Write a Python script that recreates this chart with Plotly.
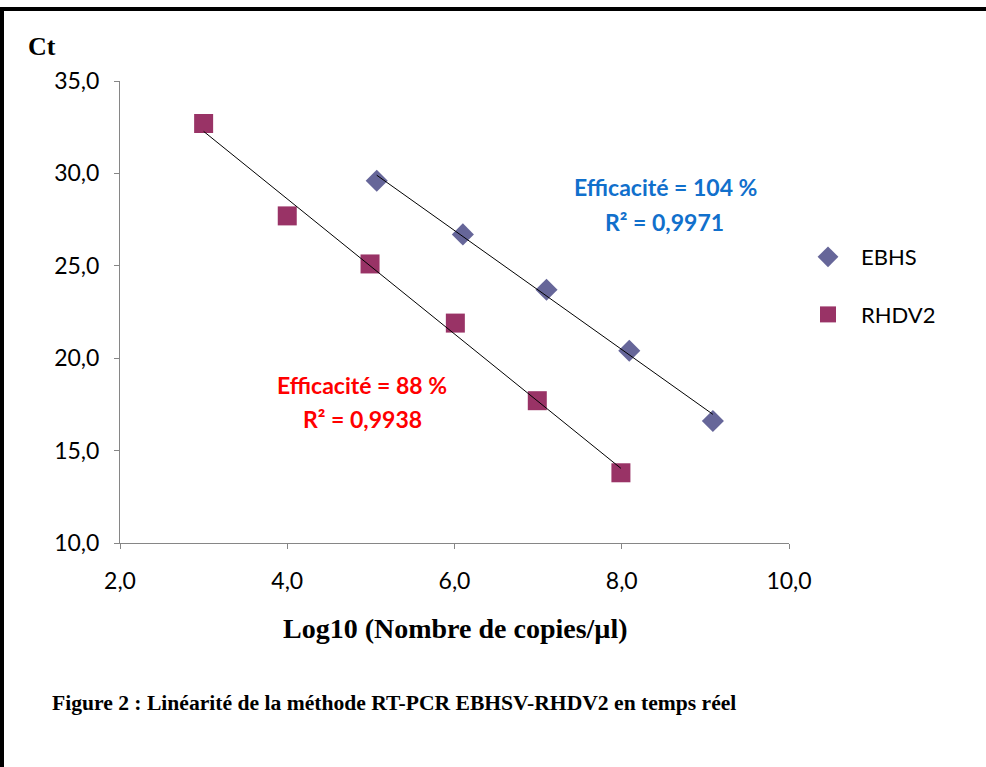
import numpy as np
import plotly.graph_objects as go

# ---- data ----
ebhs_x = [5.07, 6.10, 7.10, 8.09, 9.09]
ebhs_y = [29.6, 26.7, 23.7, 20.4, 16.6]
rhdv2_x = [3.00, 4.00, 4.99, 6.01, 6.99, 7.99]
rhdv2_y = [32.7, 27.7, 25.1, 21.9, 17.7, 13.8]
series_names = ["EBHS", "RHDV2"]
x_ticks = [2, 4, 6, 8, 10]
y_ticks = [10, 15, 20, 25, 30, 35]

ebhs_color = "#666699"
rhdv2_color = "#993366"

fig = go.Figure()
fig.add_trace(go.Scatter(x=ebhs_x, y=ebhs_y, mode="markers", name=series_names[0],
                         legendgroup="a",
                         marker=dict(symbol="diamond", size=17, color=ebhs_color)))
fig.add_trace(go.Scatter(x=rhdv2_x, y=rhdv2_y, mode="markers", name=series_names[1],
                         legendgroup="b",
                         marker=dict(symbol="square", size=19, color=rhdv2_color)))

# linear trend lines (least squares on the data)
for xs, ys in [(ebhs_x, ebhs_y), (rhdv2_x, rhdv2_y)]:
    a, b = np.polyfit(xs, ys, 1)
    xl = [min(xs), max(xs)]
    fig.add_trace(go.Scatter(x=xl, y=[a * v + b for v in xl], mode="lines",
                             line=dict(color="black", width=1), showlegend=False,
                             hoverinfo="skip"))

W, H = 986, 767
L, R, T, B = 120, 789, 81, 543
pw, ph = R - L, B - T


def px(x):
    return (x - L) / pw


def py(y):
    return (B - y) / ph


axis_common = dict(showline=True, linecolor="#868686", linewidth=1, ticks="outside",
                   ticklen=5, tickcolor="#868686", showgrid=False, zeroline=False,
                   tickfont=dict(family="Lato", size=23, color="black"),
                   tickformat=".1f")

fig.update_layout(
    width=W, height=H,
    margin=dict(l=L, r=W - R, t=T, b=H - B),
    paper_bgcolor="white", plot_bgcolor="white",
    separators=", ",
    showlegend=True,
    legend=dict(x=px(795), y=py(236), xanchor="left", yanchor="top",
                font=dict(family="Lato", size=22, color="black"),
                tracegroupgap=26, itemwidth=56, bgcolor="rgba(0,0,0,0)"),
    xaxis=dict(range=[2, 10], tickvals=x_ticks, ticklabelstandoff=12, **axis_common),
    yaxis=dict(range=[10, 35], tickvals=y_ticks, ticklabelstandoff=10, **axis_common),
)


def note(text, x, y, size, color, family="Lato", xanchor="center"):
    return dict(text=text, x=px(x), y=py(y), xref="paper", yref="paper",
                xanchor=xanchor, yanchor="middle", showarrow=False,
                font=dict(family=family, size=size, color=color))


serif = "Liberation Serif"
blue = "#1170CC"
red = "#FF0000"
ann = [
    note("<b>Ct</b>", 41.5, 47, 26, "black", serif),
    note("<b>Log10 (Nombre de copies/µl)</b>", 455, 628, 28, "black", serif),
    note("<b>Figure 2 : Linéarité de la méthode RT-PCR EBHSV-RHDV2 en temps réel</b>",
         50, 703, 21.6, "black", serif, xanchor="left"),
    note("<b>Efficacité = 104 %</b>", 665, 187, 23, blue),
    note("<b>R² = 0,9971</b>", 664, 222, 23, blue),
    note("<b>Efficacité = 88 %</b>", 362, 385, 23, red),
    note("<b>R² = 0,9938</b>", 362, 419, 23, red),
]
fig.update_layout(annotations=ann)

# frame (top and left edges of the figure border)
fig.add_shape(type="line", xref="paper", yref="paper", x0=px(0), x1=px(986), y0=py(9), y1=py(9),
              line=dict(color="black", width=4))
fig.add_shape(type="line", xref="paper", yref="paper", x0=px(2), x1=px(2), y0=py(7), y1=py(767),
              line=dict(color="black", width=4))

fig.write_html("out.html", config={"displayModeBar": False},
               post_script="document.body.style.margin='0';document.body.style.overflow='hidden';")
